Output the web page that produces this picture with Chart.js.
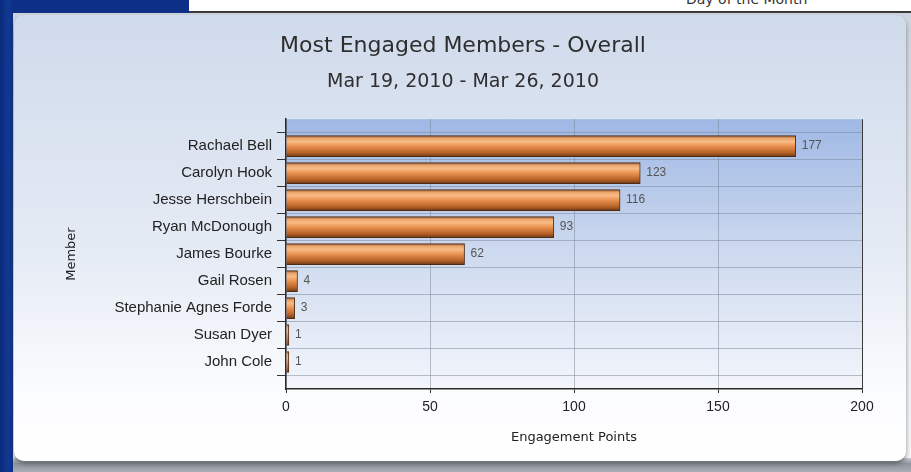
<!DOCTYPE html>
<html>
<head>
<meta charset="utf-8">
<script src="https://cdn.jsdelivr.net/npm/chart.js@4/dist/chart.umd.min.js"></script>
<style>
  html, body { margin: 0; padding: 0; }
  body { width: 911px; height: 472px; overflow: hidden; position: relative;
         background: linear-gradient(90deg, #0a2a7c 0px, #123a92 8px, #0d3086 13px); }
  #topstrip { position: absolute; left: 189px; top: 0; width: 722px; height: 11px;
              background: #ffffff; border-bottom: 2px solid #3a3a3a; overflow: hidden; }
  #topstrip span { position: absolute; left: 497px; top: -9px; font: 14px "DejaVu Sans", sans-serif; color: #333; }
  #backdrop { position: absolute; left: 13px; top: 13px; right: 0; bottom: 0;
              background: linear-gradient(180deg, #cdd3dc 0%, #e9edf2 60%, #f4f6f8 100%); }
  #bottomshade { position: absolute; left: 13px; right: 0; top: 458px; bottom: 0;
              background: linear-gradient(180deg, #c8ccd0 0%, #8e959c 40%, #a9aeb3 100%); }
  #panel { position: absolute; left: 14px; top: 15px; width: 892px; height: 446px;
           border-radius: 10px;
           background: linear-gradient(180deg, #cfdaeb 0%, #e6ecf5 55%, #fbfcfe 85%, #ffffff 100%);
           box-shadow: 0 3px 4px rgba(60,60,60,0.55); }
  canvas { position: absolute; left: 0; top: 0; }
</style>
</head>
<body>
<div id="topstrip"><span>Day of the Month</span></div>
<div id="backdrop"></div>
<div id="bottomshade"></div>
<div id="panel"></div>
<canvas id="c" width="911" height="472"></canvas>
<script>
const members = ["Rachael Bell", "Carolyn Hook", "Jesse Herschbein", "Ryan McDonough", "James Bourke",
                 "Gail Rosen", "Stephanie Agnes Forde", "Susan Dyer", "John Cole"];
const points = [177, 123, 116, 93, 62, 4, 3, 1, 1];
const xTicks = [0, 50, 100, 150, 200];
const titleText = "Most Engaged Members - Overall";
const subtitleText = "Mar 19, 2010 - Mar 26, 2010";

// padded with an empty slot above and below, as in the original layout
const yLabels = [""].concat(members, [""]);
const yData = [null].concat(points, [null]);

const plotBg = {
  id: 'plotBg',
  beforeDraw(chart) {
    const a = chart.chartArea; if (!a) return;
    const ctx = chart.ctx;
    const g = ctx.createLinearGradient(0, a.top, 0, a.bottom);
    g.addColorStop(0, '#9fb8e4');
    g.addColorStop(0.5, '#cedaef');
    g.addColorStop(1, '#f3f6fb');
    ctx.save();
    ctx.fillStyle = g;
    ctx.fillRect(a.left, a.top, a.right - a.left, a.bottom - a.top);
    ctx.restore();
  }
};

const valueLabels = {
  id: 'valueLabels',
  afterDatasetsDraw(chart) {
    const ctx = chart.ctx;
    const meta = chart.getDatasetMeta(0);
    const data = chart.data.datasets[0].data;
    ctx.save();
    ctx.font = '12px "Liberation Sans", Arial, sans-serif';
    ctx.fillStyle = '#555555';
    ctx.textAlign = 'left';
    ctx.textBaseline = 'middle';
    meta.data.forEach((bar, i) => {
      const v = data[i];
      if (v === null || v === undefined) return;
      ctx.fillText(String(v), bar.x + 6, bar.y);
    });
    ctx.restore();
  }
};

function barGradient(c) {
  const chart = c.chart;
  if (!chart.chartArea || !chart.scales.y || c.dataIndex === undefined) return '#e28846';
  const y = chart.scales.y.getPixelForValue(c.dataIndex);
  const h = 10.5;
  const g = chart.ctx.createLinearGradient(0, y - h, 0, y + h);
  g.addColorStop(0.0, '#8a5330');
  g.addColorStop(0.12, '#eaa46c');
  g.addColorStop(0.28, '#f8bb86');
  g.addColorStop(0.5, '#ea914f');
  g.addColorStop(0.8, '#b8632a');
  g.addColorStop(1.0, '#6e3a16');
  return g;
}

new Chart(document.getElementById('c'), {
  type: 'bar',
  data: {
    labels: yLabels,
    datasets: [{
      data: yData,
      backgroundColor: barGradient,
      borderColor: '#4e2c14',
      borderWidth: 1,
      barThickness: 21
    }]
  },
  options: {
    indexAxis: 'y',
    responsive: false,
    animation: false,
    events: [],
    layout: { padding: { left: 64, right: 49, top: 0, bottom: 0 } },
    plugins: {
      legend: { display: false },
      tooltip: { enabled: false },
      title: {
        display: true, text: titleText, color: '#2e2e2e',
        font: { family: '"DejaVu Sans", Verdana, sans-serif', size: 22, weight: 'normal' },
        padding: { top: 33, bottom: 11 }
      },
      subtitle: {
        display: true, text: subtitleText, color: '#2e2e2e',
        font: { family: '"DejaVu Sans", Verdana, sans-serif', size: 19, weight: 'normal' },
        padding: { top: 0, bottom: 26 }
      }
    },
    scales: {
      x: {
        type: 'linear', min: 0, max: 200,
        afterBuildTicks(scale) { scale.ticks = xTicks.map(v => ({ value: v })); },
        afterFit(scale) { scale.height = 83; },
        ticks: { color: '#222222', padding: 6,
                 font: { family: '"Liberation Sans", Arial, sans-serif', size: 14 } },
        grid: {
          color: (c) => (c.tick && c.tick.value === 200) ? '#3a3a3a' : 'rgba(120,132,152,0.5)',
          tickColor: '#333333', tickLength: 4, lineWidth: 1
        },
        border: { display: true, color: '#2a2a2a', width: 1.5 },
        title: { display: true, text: 'Engagement Points', color: '#222222',
                 font: { family: '"DejaVu Sans", Verdana, sans-serif', size: 13 },
                 padding: { top: 0, bottom: 27 } }
      },
      y: {
        type: 'category', offset: false,
        afterFit(scale) { scale.width = 222; },
        ticks: { color: '#222222', padding: 5, autoSkip: false,
                 font: { family: '"Liberation Sans", Arial, sans-serif', size: 15 } },
        grid: {
          color: (c) => (c.index === 0) ? '#3a3a3a' : 'rgba(120,132,152,0.5)',
          tickColor: '#333333', tickLength: 9, lineWidth: 1
        },
        border: { display: true, color: '#2a2a2a', width: 1.5 },
        title: { display: true, text: 'Member', color: '#222222',
                 font: { family: '"DejaVu Sans", Verdana, sans-serif', size: 13 },
                 padding: { top: 0, bottom: 0 } }
      }
    }
  },
  plugins: [plotBg, valueLabels]
});
</script>
</body>
</html>
